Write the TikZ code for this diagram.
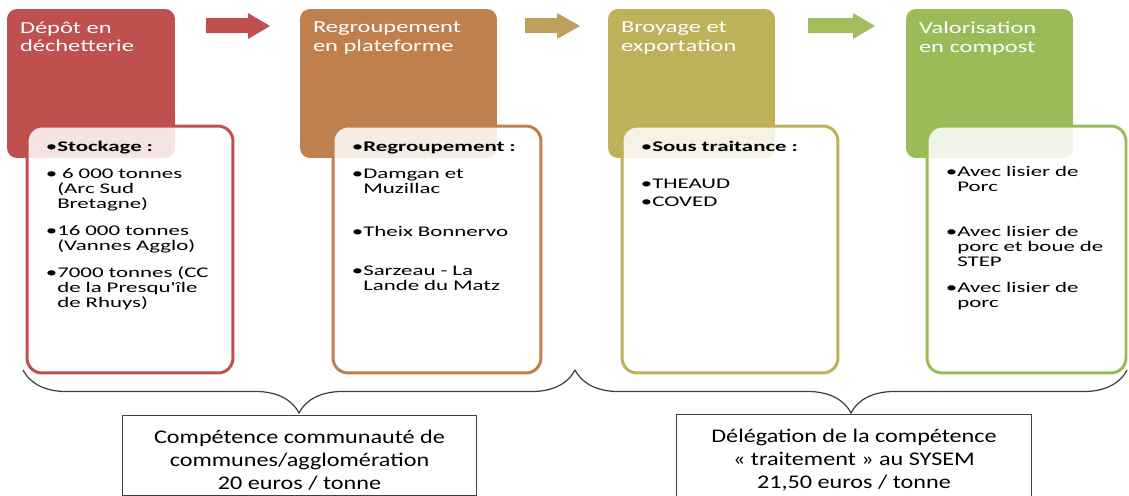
\documentclass[tikz,border=0pt]{standalone}
\usepackage{fontspec}
\setmainfont{Carlito}
\newfontfamily\titlefont[FakeStretch=1.45]{Carlito}
\newfontfamily\bodyfont[FakeStretch=1.55]{Carlito}
\newfontfamily\notefont[FakeStretch=1.25]{Carlito}
\usetikzlibrary{decorations.pathreplacing}
\definecolor{rojo}{HTML}{C0504D}
\definecolor{marron}{HTML}{C0804D}
\definecolor{oliva}{HTML}{BDB15A}
\definecolor{verde}{HTML}{9BBB59}
\definecolor{oro}{HTML}{BFA05A}
\definecolor{verdeoliva}{HTML}{A3BC5C}
\definecolor{gris}{HTML}{404040}
% puce, ligne suivante en retrait, espace entre puces
\newlength{\bulw}
\newcommand{\itm}[1]{\par\settowidth{\bulw}{•}\noindent•#1}
\newcommand{\sig}{\\\hspace*{\bulw}}
\newcommand{\salto}[1]{\par\vspace{#1}}

\begin{document}
\begin{tikzpicture}[x=0.02cm, y=-0.02cm,
    etapa/.style={fill=#1, rounded corners=0.2cm, minimum height=2.98cm, inner sep=0},
    detalle/.style={draw=#1, line width=1.7pt, fill=white, fill opacity=0.85, rounded corners=0.3cm, minimum height=4.94cm, inner sep=0},
    titulo/.style={text=white, font=\titlefont\fontsize{9.6}{10.4}\selectfont, align=left, anchor=north west, inner sep=0},
    lista/.style={text width=3.9cm, font=\bodyfont\fontsize{8.4}{8.5}\selectfont, align=left, anchor=north west, inner sep=0},
    nota/.style={draw=gris, line width=0.6pt, minimum width=7.1cm, minimum height=1.5cm, align=center, font=\notefont\fontsize{11}{13}\selectfont},
    llave/.style={draw=gris, line width=0.7pt, decorate, decoration={brace, mirror, amplitude=0.86cm}}]
    \useasboundingbox (0,0) rectangle (1129,495);

    % Etapes colorees
    \node[etapa=rojo, minimum width=3.36cm] (e1) at (91,83.5) {};
    \node[etapa=marron, minimum width=3.94cm] (e2) at (398.5,83.5) {};
    \node[etapa=oliva, minimum width=3.34cm] (e3) at (691.5,83.5) {};
    \node[etapa=verde, minimum width=3.34cm] (e4) at (989.5,83.5) {};

    % Fleches entre etapes
    \foreach \xa/\xb/\xc/\col in {206/248/270/rojo, 525/557/580/oro, 808/853/875/verdeoliva}
        \fill[\col] (\xa,18) -- (\xb,18) -- (\xb,13) -- (\xc,26) -- (\xb,39) -- (\xb,33) -- (\xa,33) -- cycle;

    % Cadres de detail
    \node[detalle=rojo, minimum width=4.12cm] (d1) at (130,249.5) {};
    \node[detalle=marron, minimum width=4.16cm] (d2) at (437,249.5) {};
    \node[detalle=oliva, minimum width=4.32cm] (d3) at (730,249.5) {};
    \node[detalle=verde, minimum width=3.98cm] (d4) at (1026.5,249.5) {};

    % Titres
    \node[titulo] (t1) at ([shift={(13,13)}]e1.north west) {Dépôt en\\déchetterie};
    \node[titulo] (t2) at ([shift={(13,13)}]e2.north west) {Regroupement\\en plateforme};
    \node[titulo] (t3) at ([shift={(13,13)}]e3.north west) {Broyage et\\exportation};
    \node[titulo] (t4) at ([shift={(13,13)}]e4.north west) {Valorisation\\en compost};

    % Listes
    \node[lista] (l1) at ([shift={(20,12)}]d1.north west) {%
        \itm{\textbf{Stockage :}}\salto{6.8pt}%
        \itm{ 6 000 tonnes\sig(Arc Sud\sig Bretagne)}\salto{6.8pt}%
        \itm{16 000 tonnes\sig(Vannes Agglo)}\salto{6.8pt}%
        \itm{7000 tonnes (CC\sig de la Presqu'île\sig de Rhuys)}};
    \node[lista] (l2) at ([shift={(20,12)}]d2.north west) {%
        \itm{\textbf{Regroupement :}}\salto{6.8pt}%
        \itm{Damgan et\sig Muzillac}\salto{15.9pt}%
        \itm{Theix Bonnervo}\salto{13.6pt}%
        \itm{Sarzeau - La\sig Lande du Matz}};
    \node[lista] (l3) at ([shift={(20,12)}]d3.north west) {%
        \itm{\textbf{Sous traitance :}}\salto{12.5pt}%
        \itm{THEAUD}\salto{1.7pt}%
        \itm{COVED}};
    \node[lista] (l4) at ([shift={(20,37)}]d4.north west) {%
        \itm{Avec lisier de\sig Porc}\salto{17pt}%
        \itm{Avec lisier de\sig porc et boue de\sig STEP}\salto{6.2pt}%
        \itm{Avec lisier de\sig porc}};

    % Accolades et competences
    \coordinate (a1) at (23,370);
    \coordinate (a2) at (575,370);
    \coordinate (a3) at (1127,370);
    \draw[llave] (a1) -- (a2);
    \draw[llave] (a2) -- (a3);
    \node[nota] (n1) at (299.5,455.5) {\rule{0pt}{12.8pt}Compétence communauté de\\communes/agglomération\\20 euros / tonne};
    \node[nota] (n2) at (854,455.5) {\rule{0pt}{12.8pt}Délégation de la compétence\\«~traitement~» au SYSEM\\21,50 euros / tonne};
\end{tikzpicture}
\end{document}
